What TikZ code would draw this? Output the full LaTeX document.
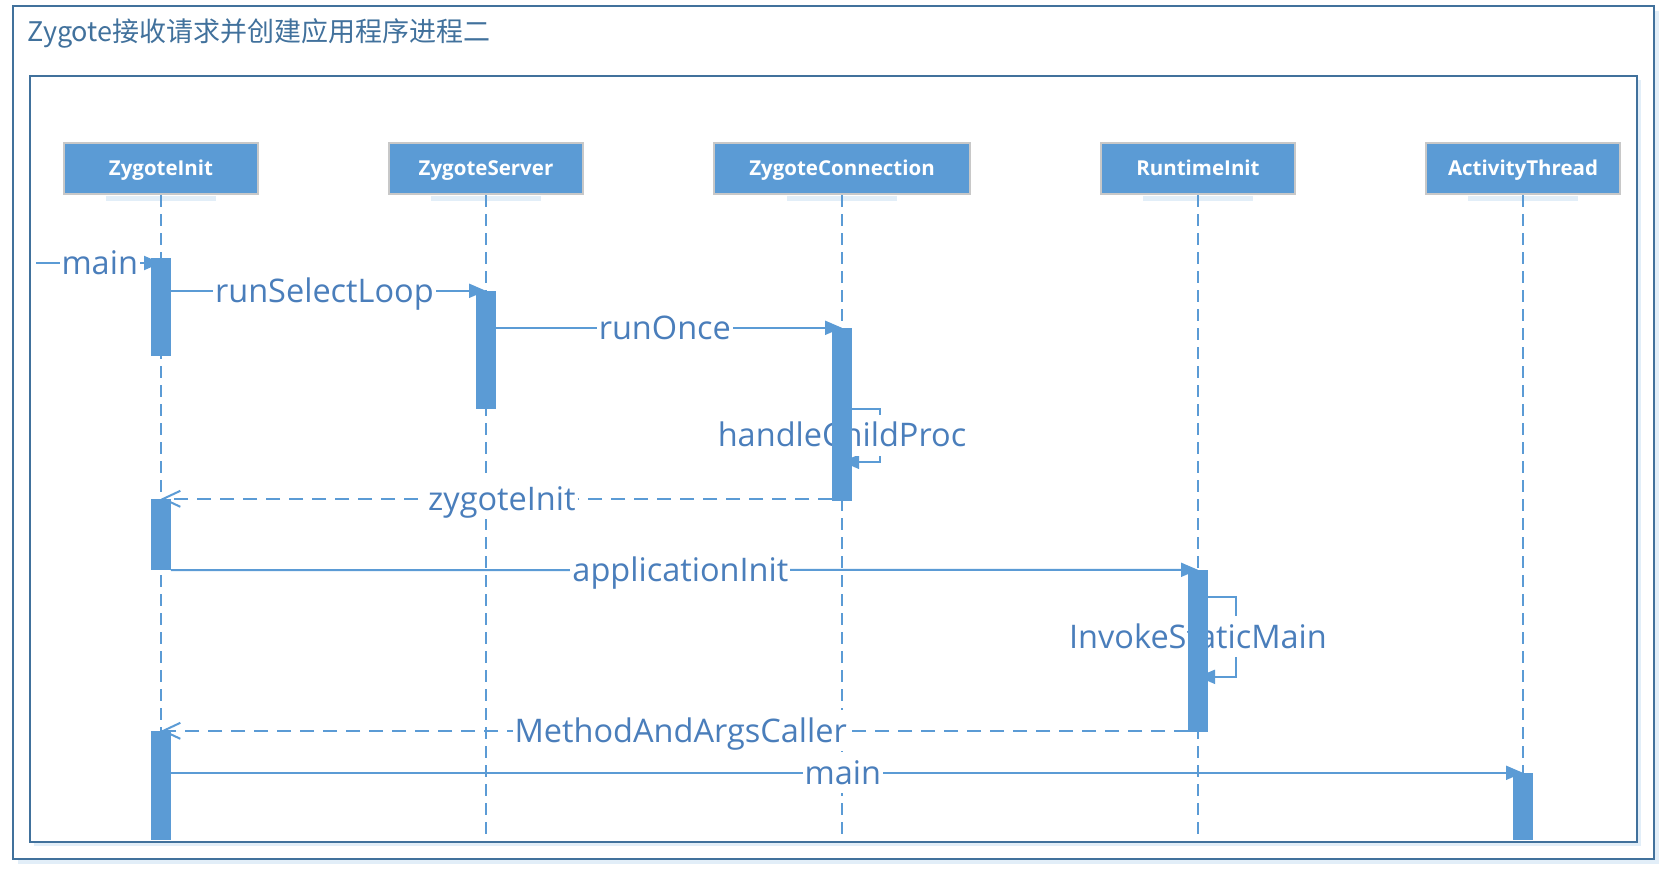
\documentclass[tikz,border=0pt]{standalone}
\usepackage{fontspec}
\usetikzlibrary{arrows.meta,calc}
\newfontfamily\lblfont{Open Sans}
\newfontfamily\boxfont{Open Sans}
\newfontfamily\cjkfont{Noto Sans CJK SC}
\definecolor{framec}{RGB}{65,113,156}
\definecolor{lc}{RGB}{91,155,213}
\definecolor{txtc}{RGB}{74,126,187}
\definecolor{boxborder}{RGB}{200,200,200}
\definecolor{shadec}{RGB}{226,238,248}
\pgfdeclarelayer{back}
\pgfdeclarelayer{front}
\pgfsetlayers{back,main,front}
\begin{document}
\begin{tikzpicture}[x=1pt,y=-1pt,
  lifebox/.style={draw=boxborder, line width=2pt, fill=lc, text=white,
    font=\boxfont\bfseries\fontsize{20.5}{24}\selectfont,
    text height=14.6pt, text depth=0pt,
    minimum height=51pt, inner sep=0pt},
  lifeline/.style={draw=lc, line width=2pt, dash pattern=on 12pt off 7pt},
  bar/.style={fill=lc, draw=none, minimum width=19.5pt, inner sep=0pt},
  msg/.style={draw=lc, line width=2pt, -{Triangle[length=17pt,width=14pt]}},
  ret/.style={draw=lc, line width=2pt, dash pattern=on 14pt off 9pt,
    -{Straight Barb[length=17pt,width=16pt]}},
  lbl/.style={font=\lblfont\fontsize{32.5}{38}\selectfont, text=txtc, fill=white,
    inner xsep=2pt, inner ysep=9pt, text height=23pt, text depth=0pt},
  framebox/.style={draw=framec, line width=2pt},
]
\useasboundingbox (0,0) rectangle (1670,881);

% frames
\begin{pgfonlayer}{back}
  \draw[shadec, line width=4pt] (18,862) -- (1657,862) -- (1657,11);
  \draw[shadec, line width=3pt] (34,844.5) -- (1639.5,844.5) -- (1639.5,80);
\end{pgfonlayer}
\draw[framebox] (13,6) rectangle (1654,859);
\draw[framebox] (30,76) rectangle (1637,842);

% title
\node[anchor=base west, font=\cjkfont\fontsize{27}{32}\selectfont, text=framec, inner sep=0pt]
  (title) at (27,41) {Zygote接收请求并创建应用程序进程二};

% lifeline heads
\node[lifebox, minimum width=194pt] (zi) at (161,168.5) {ZygoteInit};
\node[lifebox, minimum width=194pt] (zs) at (486,168.5) {ZygoteServer};
\node[lifebox, minimum width=256pt] (zc) at (842,168.5) {ZygoteConnection};
\node[lifebox, minimum width=194pt] (ri) at (1198,168.5) {RuntimeInit};
\node[lifebox, minimum width=194pt] (at) at (1523,168.5) {ActivityThread};

% lifelines and head shadows
\begin{pgfonlayer}{back}
  \foreach \n in {zi,zs,zc,ri,at}{
    \fill[shadec] ($(\n.south)+(-55,1)$) rectangle ($(\n.south)+(55,6)$);
    \draw[lifeline] (\n.south) -- (\n.south |- 0,842);
  }
\end{pgfonlayer}

% activation bars
\begin{pgfonlayer}{front}
  \node[bar, minimum height=98pt]  (b1) at (zi |- 0,307) {};
  \node[bar, minimum height=118pt] (b2) at (zs |- 0,350) {};
  \node[bar, minimum height=173pt] (b3) at (zc |- 0,414.5) {};
  \node[bar, minimum height=71pt]  (b4) at (zi |- 0,534.5) {};
  \node[bar, minimum height=162pt] (b5) at (ri |- 0,651) {};
  \node[bar, minimum height=109pt] (b6) at (zi |- 0,785.5) {};
  \node[bar, minimum height=67pt]  (b7) at (at |- 0,806.5) {};
\end{pgfonlayer}

% messages
\coordinate (m1s) at (36,263);
\draw[msg] (m1s) -- (m1s -| b1.north) node[lbl, pos=0.51] {main};
\draw[msg] (b1.east |- b2.north) -- (b2.north) node[lbl, pos=0.487] {runSelectLoop};
\draw[msg] (b2.east |- b3.north) -- (b3.north) node[lbl, pos=0.488] {runOnce};
\draw[msg] ([yshift=-81pt]b3.north east) -- ++(28,0) -- ++(0,53) -- ([yshift=-134pt]b3.north);
\node[lbl] (hcp) at ([yshift=-107.5pt]b3.north) {handleChildProc};
\draw[ret] (b3.west |- b4.north) -- (b4.north) node[lbl, pos=0.492] {zygoteInit};
\draw[msg] (b4.south east) -- (b5.north) node[lbl, pos=0.496] {applicationInit};
\draw[msg] ([yshift=-27pt]b5.north east) -- ++(28,0) -- ++(0,80) -- ([yshift=-107pt]b5.north);
\node[lbl] (ism) at ([yshift=-67pt]b5.north) {InvokeStaticMain};
\draw[ret] (b5.west |- b6.north) -- (b6.north) node[lbl, pos=0.494] {MethodAndArgsCaller};
\draw[msg] (b6.east |- b7.north) -- (b7.north) node[lbl, pos=0.497] {main};
\end{tikzpicture}
\end{document}
